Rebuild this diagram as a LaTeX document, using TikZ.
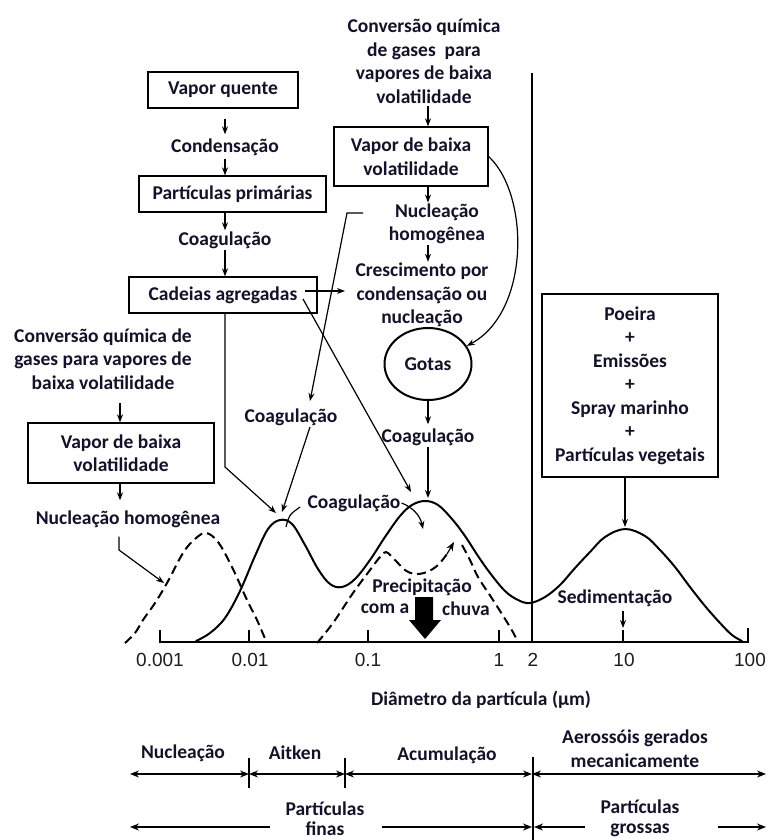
\documentclass[tikz,border=0pt]{standalone}
\usepackage{fontspec}
\setmainfont{Carlito}
\newfontfamily\numfont{Liberation Sans}
\usetikzlibrary{arrows.meta,shapes.geometric}
\definecolor{txt}{RGB}{18,18,40}
\definecolor{numc}{RGB}{30,30,30}
\begin{document}
\begin{tikzpicture}[x=1pt,y=-1pt,
  lbl/.style={font=\bfseries\fontsize{19.5}{23.5}\selectfont, inner sep=1pt, align=center, text=txt},
  boxn/.style={lbl, draw, line width=1.3pt, inner sep=0pt},
  num/.style={font=\numfont\fontsize{19}{22}\selectfont, inner sep=0pt, text=numc},
  arr/.style={line width=1.2pt, -{Stealth[length=8pt,width=6pt]}},
  darr/.style={line width=1.2pt, {Stealth[length=9pt,width=7pt]}-{Stealth[length=9pt,width=7pt]}},
  sarr/.style={line width=1.2pt, -{Stealth[length=9pt,width=7pt]}},
  plain/.style={line width=1.2pt},
  axisl/.style={line width=1.5pt},
  curve/.style={line width=2pt, line join=round, line cap=round},
  dcurve/.style={line width=2pt, dash pattern=on 9pt off 5pt},
]
\fill[white] (0,0) rectangle (768,840);
\useasboundingbox (0,0) rectangle (768,840);

% ---------- left production chain ----------
\node[boxn, minimum width=150pt, minimum height=36pt] (vq) at (223,90) {Vapor quente};
\node[lbl] (cond) at (225,147) {Condensação};
\node[boxn, minimum width=187pt, minimum height=36pt] (pp) at (232.5,194) {Partículas primárias};
\node[lbl] (coag1) at (225,240) {Coagulação};
\node[boxn, minimum width=188pt, minimum height=36pt] (cad) at (223,295) {Cadeias agregadas};

\draw[arr, shorten <=10pt, shorten >=3pt] (vq.south -| cond) -- (cond.north);
\draw[arr, shorten <=2pt] (cond.south) -- (cond.south |- pp.north);
\draw[arr] (pp.south -| coag1) -- (coag1.north);
\draw[arr] (coag1.south) -- (coag1.south |- cad.north);

% ---------- top centre chain ----------
\coordinate (colx) at (428,0);
\node[lbl] (conv1) at (424,61) {Conversão química\\de gases~ para\\vapores de baixa\\volatilidade};
\node[boxn, minimum width=154pt, minimum height=59pt] (vb1) at (411,156.5) {Vapor de baixa\\volatilidade};
\node[lbl] (nuc1) at (437,224) {Nucleação\\homogênea};
\node[lbl] (cresc) at (422,295) {Crescimento por\\condensação ou\\nucleação};
\node[lbl, ellipse, draw, line width=2pt, minimum width=87pt, minimum height=72pt, inner sep=0pt] (gotas) at (428,364) {Gotas};

\draw[arr, shorten <=2pt] (conv1.south -| colx) -- (vb1.north -| colx);
\draw[arr] (vb1.south -| colx) -- (nuc1.north -| colx);
\draw[arr] (nuc1.south -| colx) -- (cresc.north -| colx);
\draw[arr] (vb1.east) .. controls (530,195) and (530,312) .. (gotas.25);

% ---------- left second chain ----------
\coordinate (lcolx) at (120,0);
\node[lbl] (conv2) at (103,359) {Conversão química de\\gases para vapores de\\baixa volatilidade};
\node[boxn, minimum width=186pt, minimum height=60pt] (vb2) at (121,453) {Vapor de baixa\\volatilidade};
\node[lbl] (nuc2) at (128,519) {Nucleação homogênea};
\draw[arr, shorten <=12pt] (conv2.south -| lcolx) -- (vb2.north -| lcolx);
\draw[arr, shorten >=9pt] (vb2.south -| lcolx) -- (nuc2.north -| lcolx);
\coordinate (nbend) at (119,550);
\coordinate (d1pt) at (164,583);
\draw[arr, shorten <=8pt] (nuc2.south -| nbend) -- (nbend) -- (d1pt);

% ---------- right source box ----------
\node[boxn, minimum width=176pt, minimum height=183pt] (poe) at (630,385.5)
  {Poeira\\+\\Emissões\\+\\Spray marinho\\+\\Partículas vegetais};

% ---------- other labels ----------
\node[lbl] (coag2) at (291,417) {Coagulação};
\node[lbl] (coag3) at (428,437) {Coagulação};
\node[lbl] (coag4) at (354,503) {Coagulação};
\node[lbl] (prec) at (422,587) {Precipitação};
\node[lbl] (coma) at (385,609) {com a};
\node[lbl] (chuva) at (466,609) {chuva};
\node[lbl] (sed) at (615,598) {Sedimentação};

% ---------- axis ----------
\coordinate (ax0) at (160,642);
\coordinate (ax1) at (748,642);
\draw[axisl] (160,630) -- (ax0) -- (ax1) -- (748,628);
\foreach \t in {249,368,499,623} \draw[axisl] (\t,630) -- (\t,642);
\node[num] (n1) at (160,660) {0.001};
\node[num] (n2) at (250,660) {0.01};
\node[num] (n3) at (368,660) {0.1};
\node[num] (n4) at (499,660) {1};
\node[num] (n5) at (533,660) {2};
\node[num] (n6) at (624,660) {10};
\node[num] (n7) at (750,660) {100};
\node[lbl] (diam) at (481,700) {Diâmetro da partícula (µm)};

% vertical divider
\coordinate (vtop) at (532,73);
\draw[plain] (vtop) -- (vtop |- ax0);

% ---------- size distribution curves ----------
\draw[curve] plot[smooth, tension=0.6] coordinates {
 (196,641) (210,633) (225,618) (240,591) (255,556) (268,529) (280,520) (292,524)
 (305,545) (318,569) (330,584) (342,587) (355,579) (370,560) (385,537) (400,516)
 (412,505) (425,501) (438,505) (452,519) (465,536) (478,556) (490,573) (505,591)
 (518,600) (530,603) (545,597) (560,585) (575,568) (590,552) (605,537) (625,529)
 (645,536) (660,550) (675,567) (690,587) (705,606) (720,623) (732,635) (742,641)};
\draw[dcurve] plot[smooth, tension=0.6] coordinates {
 (125,643) (135,633) (143,620) (155,603) (167,583) (183,553) (195,539) (206,533)
 (218,542) (232,567) (247,600) (257,620) (266,641)};
\draw[dcurve] plot[smooth, tension=0.6] coordinates {
 (317,643) (333,623) (353,593) (370,570) (380,557) (386,552) (395,560) (405,570)
 (415,574) (427,572) (438,565) (447,554)};
\coordinate (dipa) at (447,554);
\coordinate (dipb) at (454,542);
\draw[sarr] (dipa) -- (dipb);
\draw[dcurve] plot[smooth, tension=0.6] coordinates {
 (462,545) (470,560) (478,577) (493,600) (510,627) (518,642)};

% big rain arrow
\fill[black] (415,597) -- (433,597) -- (433,620) -- (441,620) -- (425,639) -- (409,620) -- (415,620) -- cycle;

% ---------- arrows to peaks ----------
\coordinate (cb) at (225,467);
\coordinate (pk1a) at (276,513);
\draw[arr] (cad.south -| cb) -- (cb) -- (pk1a);

\coordinate (u1) at (363,213);
\coordinate (u2) at (347,213);
\coordinate (u3) at (310,401);
\draw[arr] (u1) -- (u2) -- (u3);
\coordinate (c2s) at (310,427);
\coordinate (pk1b) at (282,512);
\draw[arr] (c2s) -- (pk1b);

\coordinate (cd0) at (303,299);
\coordinate (pk2a) at (411,492);
\draw[arr] (cd0) -- (pk2a);
\coordinate (h0) at (305,291);
\coordinate (h1) at (345,291);
\draw[arr] (h0) -- (h1);

\draw[arr, shorten >=3pt] (gotas.south) -- (coag3.north);
\coordinate (pk2) at (428,498);
\draw[arr] (coag3.south) -- (pk2);

\coordinate (pk3) at (625,527);
\draw[arr] (poe.south -| pk3) -- (pk3);

\coordinate (sedt) at (623,628);
\draw[arr, shorten <=3pt] (sed.south -| sedt) -- (sedt);

\coordinate (cm1) at (423,529);
\draw[arr] (coag4.east) .. controls (412,507) and (420,515) .. (cm1);
\coordinate (tk0) at (286,527);
\coordinate (tk1) at (300,507);
\draw[plain] (tk0) .. controls (289,515) .. (tk1);

% ---------- mode bands ----------
\node[lbl] (bnuc) at (183,753) {Nucleação};
\node[lbl] (bait) at (295,753) {Aitken};
\node[lbl] (bacu) at (447,755) {Acumulação};
\node[lbl] (baer) at (635,748.5) {Aerossóis gerados\\mecanicamente};
\node[lbl, font=\bfseries\fontsize{19.5}{20.5}\selectfont] (bfin) at (325,818.5) {Partículas\\finas};
\node[lbl, font=\bfseries\fontsize{19.5}{20.5}\selectfont] (bgro) at (640,818.5) {Partículas\\grossas};

\coordinate (r1a) at (130,774);
\coordinate (r1b) at (249,774);
\coordinate (r1c) at (345,774);
\coordinate (r1d) at (532,774);
\coordinate (r1e) at (766,774);
\draw[darr] (r1a) -- (r1b);
\draw[darr] (r1b) -- (r1c);
\draw[darr] (r1c) -- (r1d);
\draw[darr] (r1d) -- (r1e);
\draw[plain] (249,758) -- (249,788);
\draw[plain] (345,758) -- (345,788);
\coordinate (bv0) at (533,757);
\coordinate (bv1) at (533,840);
\draw[plain] (bv0) -- (bv1);

\coordinate (r2a) at (130,827);
\coordinate (r2b) at (270,827);
\coordinate (r2c) at (382,827);
\coordinate (r2d) at (532,827);
\coordinate (r2e) at (534,827);
\coordinate (r2f) at (585,827);
\coordinate (r2g) at (718,827);
\coordinate (r2h) at (766,827);
\draw[sarr] (r2b) -- (r2a);
\draw[sarr] (r2c) -- (r2d);
\draw[sarr] (r2f) -- (r2e);
\draw[sarr] (r2g) -- (r2h);
\end{tikzpicture}
\end{document}
